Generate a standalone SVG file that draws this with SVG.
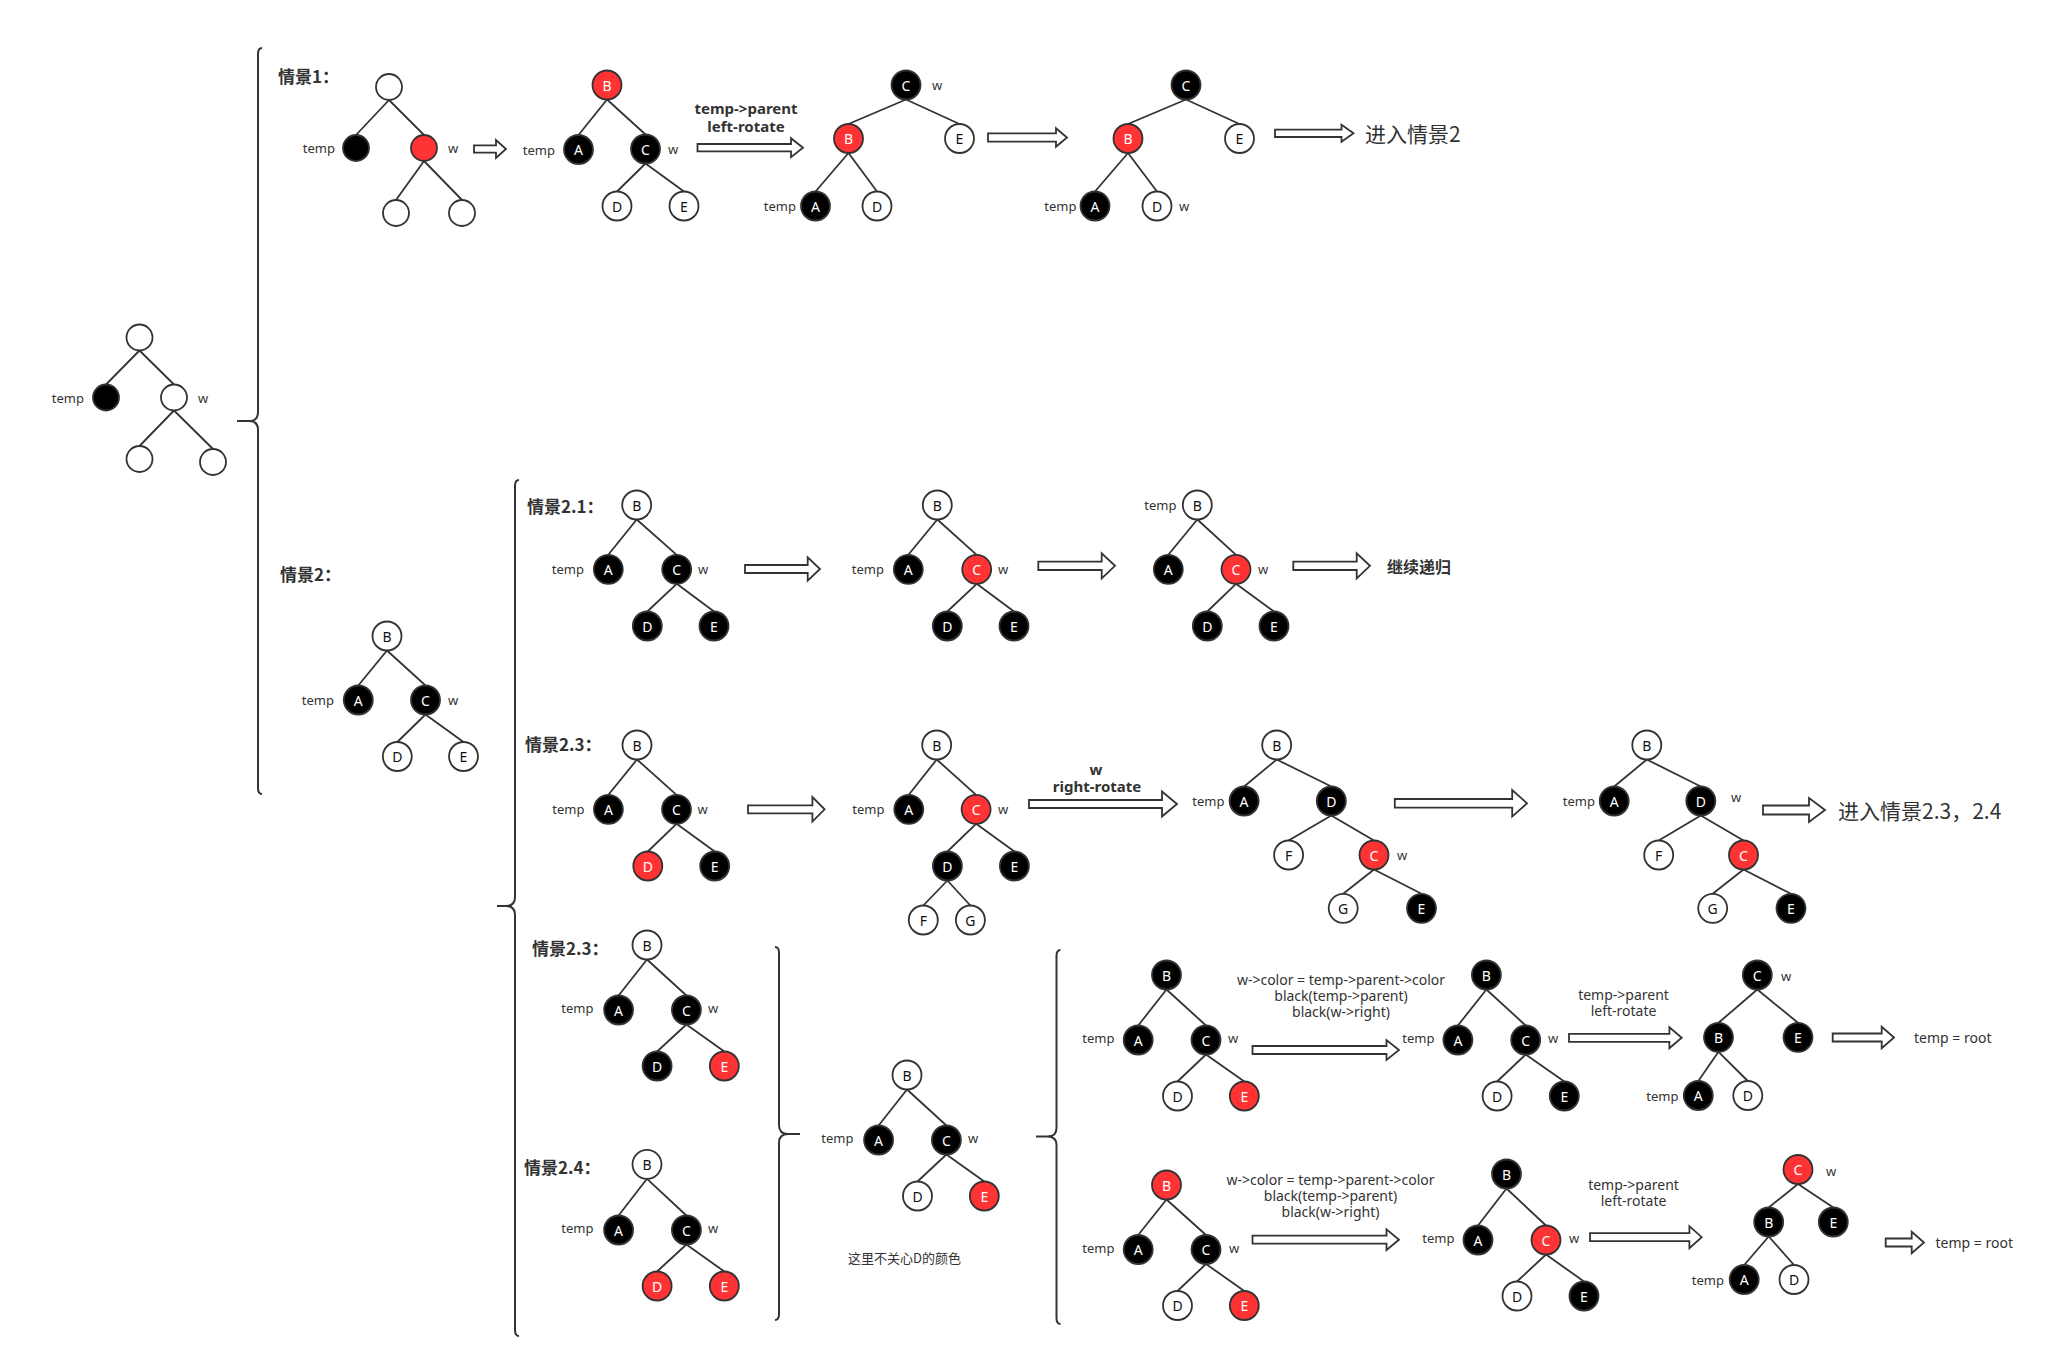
<svg xmlns="http://www.w3.org/2000/svg" width="2050" height="1368" viewBox="0 0 2050 1368">
<style>
.w{fill:#fff;stroke:#333;stroke-width:1.8}
.k{fill:#000;stroke:#333;stroke-width:1.8}
.r{fill:#ff3333;stroke:#333;stroke-width:1.8}
.e line{stroke:#333;stroke-width:1.8}
.lt{font-family:"Noto Sans","DejaVu Sans",sans-serif;font-size:14px;text-anchor:middle;dominant-baseline:central}
.lw{fill:#fff}
.ld{fill:#111}
.lbl{font-family:"Noto Sans","DejaVu Sans",sans-serif;font-size:13px;fill:#333;dominant-baseline:central}
.end{text-anchor:end}
.h{font-family:"Noto Sans CJK SC","Noto Sans",sans-serif;font-size:17px;font-weight:bold;fill:#333;dominant-baseline:central}
.big{font-family:"Noto Sans CJK SC","Noto Sans",sans-serif;font-size:21px;fill:#333;dominant-baseline:central}
.bl{font-family:"Noto Sans","DejaVu Sans",sans-serif;font-size:15px;font-weight:bold;fill:#333;text-anchor:middle;dominant-baseline:central}
.nl{font-family:"Noto Sans","DejaVu Sans",sans-serif;font-size:14px;fill:#333;dominant-baseline:central}
.mid{text-anchor:middle}
.ar{fill:#fff;stroke:#333;stroke-width:1.8;stroke-linejoin:miter}
.br{fill:none;stroke:#333;stroke-width:2}
</style>

<!-- braces -->
<g id="braces">
<path class="br" d="M262,48 Q258,48 258,54 L258,412 Q258,421 249,421 L237,421 L249,421 Q258,421 258,430 L258,788 Q258,794 262,794"/>
<path class="br" d="M519,480 Q515,480 515,486 L515,897 Q515,906 506,906 L497,906 L506,906 Q515,906 515,915 L515,1330 Q515,1336 519,1336"/>
<path class="br" d="M775,947 Q779,947 779,953 L779,1125 Q779,1134 788,1134 L800,1134 L788,1134 Q779,1134 779,1143 L779,1314 Q779,1320 775,1320"/>
<path class="br" d="M1060.5,950 Q1056.5,950 1056.5,956 L1056.5,1128 Q1056.5,1136.5 1047.5,1136.5 L1036,1136.5 L1047.5,1136.5 Q1056.5,1136.5 1056.5,1145 L1056.5,1318 Q1056.5,1324 1060.5,1324"/>
</g>

<!-- connectors: tree edges -->
<g id="connectors" class="e">
<line x1="139.5" y1="350.5" x2="106" y2="384.5"/><line x1="139.5" y1="350.5" x2="174" y2="384.5"/>
<line x1="174" y1="410.5" x2="139.5" y2="446"/><line x1="174" y1="410.5" x2="213" y2="449"/>
<line x1="389" y1="100" x2="356" y2="135"/><line x1="389" y1="100" x2="424" y2="135"/>
<line x1="424" y1="161" x2="396" y2="200"/><line x1="424" y1="161" x2="462" y2="200"/>
<line x1="607" y1="99.5" x2="578.5" y2="135"/><line x1="607" y1="99.5" x2="645.5" y2="134.5"/>
<line x1="645.5" y1="163.5" x2="617" y2="191.5"/><line x1="645.5" y1="163.5" x2="684" y2="191.5"/>
<line x1="906" y1="99.5" x2="848.5" y2="124"/><line x1="906" y1="99.5" x2="959.5" y2="124"/>
<line x1="848.5" y1="153" x2="815.5" y2="191.5"/><line x1="848.5" y1="153" x2="877" y2="191.5"/>
<line x1="1186" y1="99.5" x2="1128" y2="124"/><line x1="1186" y1="99.5" x2="1239.5" y2="124"/>
<line x1="1128" y1="153" x2="1095" y2="191.5"/><line x1="1128" y1="153" x2="1157" y2="191.5"/>
<line x1="387" y1="650.5" x2="358.3" y2="685.5"/><line x1="387" y1="650.5" x2="425.5" y2="685.5"/>
<line x1="425.5" y1="714.5" x2="397.3" y2="742"/><line x1="425.5" y1="714.5" x2="463.5" y2="742"/>
<line x1="636.7" y1="519.5" x2="608.3" y2="554.8"/><line x1="636.7" y1="519.5" x2="676.7" y2="554.8"/>
<line x1="676.7" y1="583.8" x2="647.3" y2="611.5"/><line x1="676.7" y1="583.8" x2="714" y2="611.5"/>
<line x1="937.3" y1="519.5" x2="908.3" y2="554.8"/><line x1="937.3" y1="519.5" x2="976.7" y2="554.8"/>
<line x1="976.7" y1="583.8" x2="947.3" y2="611.5"/><line x1="976.7" y1="583.8" x2="1014" y2="611.5"/>
<line x1="1197.3" y1="519.5" x2="1168.3" y2="554.8"/><line x1="1197.3" y1="519.5" x2="1236" y2="554.8"/>
<line x1="1236" y1="583.8" x2="1207.3" y2="611.5"/><line x1="1236" y1="583.8" x2="1274" y2="611.5"/>
<line x1="637" y1="759.5" x2="608.4" y2="794.8"/><line x1="637" y1="759.5" x2="676.5" y2="794.8"/>
<line x1="676.5" y1="823.8" x2="647.8" y2="851.5"/><line x1="676.5" y1="823.8" x2="714.7" y2="851.5"/>
<line x1="936.7" y1="759.5" x2="908.8" y2="794.8"/><line x1="936.7" y1="759.5" x2="976.1" y2="794.8"/>
<line x1="976.1" y1="823.8" x2="947.4" y2="851.5"/><line x1="976.1" y1="823.8" x2="1014.4" y2="851.5"/>
<line x1="947.4" y1="880.5" x2="923.3" y2="905.5"/><line x1="947.4" y1="880.5" x2="970.4" y2="905.5"/>
<line x1="1276.7" y1="759.5" x2="1244.1" y2="786.5"/><line x1="1276.7" y1="759.5" x2="1331.3" y2="786.5"/>
<line x1="1331.3" y1="815.5" x2="1288.6" y2="840.5"/><line x1="1331.3" y1="815.5" x2="1374" y2="840.5"/>
<line x1="1374" y1="869.5" x2="1343.2" y2="893.8"/><line x1="1374" y1="869.5" x2="1421.5" y2="893.8"/>
<line x1="1646.8" y1="759.5" x2="1614.2" y2="786.5"/><line x1="1646.8" y1="759.5" x2="1700.8" y2="786.5"/>
<line x1="1700.8" y1="815.5" x2="1658.7" y2="840.5"/><line x1="1700.8" y1="815.5" x2="1743.5" y2="840.5"/>
<line x1="1743.5" y1="869.5" x2="1712.7" y2="893.8"/><line x1="1743.5" y1="869.5" x2="1791" y2="893.8"/>
<line x1="647" y1="959.5" x2="618.6" y2="995.5"/><line x1="647" y1="959.5" x2="686.4" y2="995.5"/>
<line x1="686.4" y1="1024.5" x2="657.1" y2="1051.5"/><line x1="686.4" y1="1024.5" x2="724.3" y2="1051.5"/>
<line x1="647" y1="1178.8" x2="618.6" y2="1215.5"/><line x1="647" y1="1178.8" x2="686.4" y2="1215.5"/>
<line x1="686.4" y1="1244.5" x2="657.1" y2="1271.5"/><line x1="686.4" y1="1244.5" x2="724.3" y2="1271.5"/>
<line x1="907" y1="1089.5" x2="878.6" y2="1125.5"/><line x1="907" y1="1089.5" x2="946.4" y2="1125.5"/>
<line x1="946.4" y1="1154.5" x2="917.5" y2="1181.5"/><line x1="946.4" y1="1154.5" x2="984.3" y2="1181.5"/>
<line x1="1166.5" y1="989.5" x2="1138.2" y2="1025.5"/><line x1="1166.5" y1="989.5" x2="1206" y2="1025.5"/>
<line x1="1206" y1="1054.5" x2="1177.5" y2="1081.5"/><line x1="1206" y1="1054.5" x2="1244.3" y2="1081.5"/>
<line x1="1486.4" y1="989.5" x2="1457.9" y2="1025.5"/><line x1="1486.4" y1="989.5" x2="1525.7" y2="1025.5"/>
<line x1="1525.7" y1="1054.5" x2="1497.1" y2="1081.5"/><line x1="1525.7" y1="1054.5" x2="1564.3" y2="1081.5"/>
<line x1="1757.3" y1="989.5" x2="1718.5" y2="1022.8"/><line x1="1757.3" y1="989.5" x2="1798" y2="1022.8"/>
<line x1="1718.5" y1="1051.8" x2="1698.3" y2="1081"/><line x1="1718.5" y1="1051.8" x2="1747.8" y2="1081"/>
<line x1="1166.5" y1="1199.5" x2="1138.2" y2="1235"/><line x1="1166.5" y1="1199.5" x2="1206" y2="1235"/>
<line x1="1206" y1="1264" x2="1177.5" y2="1291"/><line x1="1206" y1="1264" x2="1244.3" y2="1291"/>
<line x1="1506.5" y1="1188.5" x2="1478" y2="1225.5"/><line x1="1506.5" y1="1188.5" x2="1546" y2="1225.5"/>
<line x1="1546" y1="1254.5" x2="1517" y2="1281.5"/><line x1="1546" y1="1254.5" x2="1584" y2="1281.5"/>
<line x1="1798" y1="1184" x2="1768.7" y2="1207.5"/><line x1="1798" y1="1184" x2="1833.3" y2="1207.5"/>
<line x1="1768.7" y1="1236.5" x2="1744.2" y2="1265"/><line x1="1768.7" y1="1236.5" x2="1794" y2="1265"/>
</g>

<!-- block arrows -->
<g id="arrows">
<path class="ar" d="M474,145.3 L496,145.3 L496,140 L506,149 L496,158 L496,152.7 L474,152.7 Z"/>
<path class="ar" d="M697.5,144 L791,144 L791,138.2 L803,147.7 L791,157.2 L791,151.4 L697.5,151.4 Z"/>
<path class="ar" d="M988,133.3 L1056,133.3 L1056,128.2 L1067,137.5 L1056,146.8 L1056,141.7 L988,141.7 Z"/>
<path class="ar" d="M1275,129.6 L1341.5,129.6 L1341.5,124.8 L1353.5,133.3 L1341.5,141.8 L1341.5,137 L1275,137 Z"/>
<path class="ar" d="M745,565 L807.7,565 L807.7,557.3 L820,569 L807.7,580.7 L807.7,573 L745,573 Z"/>
<path class="ar" d="M1038.3,561.6 L1101.7,561.6 L1101.7,553.3 L1115,565.8 L1101.7,578.3 L1101.7,570 L1038.3,570 Z"/>
<path class="ar" d="M1293.3,561.6 L1356.7,561.6 L1356.7,553.3 L1370,565.8 L1356.7,578.3 L1356.7,570 L1293.3,570 Z"/>
<path class="ar" d="M748,805.3 L812.4,805.3 L812.4,797 L824.6,809.3 L812.4,821.6 L812.4,813.3 L748,813.3 Z"/>
<path class="ar" d="M1029,800 L1162,800 L1162,791.5 L1177,804 L1162,816.5 L1162,808 L1029,808 Z"/>
<path class="ar" d="M1394.8,799 L1512.2,799 L1512.2,790 L1527,803.3 L1512.2,816.6 L1512.2,807.6 L1394.8,807.6 Z"/>
<path class="ar" d="M1763,805.5 L1809,805.5 L1809,798 L1825,810 L1809,822 L1809,814.5 L1763,814.5 Z"/>
<path class="ar" d="M1252.5,1046 L1386.5,1046 L1386.5,1040 L1399,1050 L1386.5,1060 L1386.5,1054 L1252.5,1054 Z"/>
<path class="ar" d="M1569,1033.8 L1669.4,1033.8 L1669.4,1027.3 L1681.7,1037.8 L1669.4,1048.3 L1669.4,1041.8 L1569,1041.8 Z"/>
<path class="ar" d="M1832.7,1033.5 L1881.7,1033.5 L1881.7,1026.7 L1894,1037.5 L1881.7,1048.3 L1881.7,1041.5 L1832.7,1041.5 Z"/>
<path class="ar" d="M1252.5,1235.7 L1386.5,1235.7 L1386.5,1229.4 L1399,1239.7 L1386.5,1250 L1386.5,1243.7 L1252.5,1243.7 Z"/>
<path class="ar" d="M1590,1233.2 L1689.4,1233.2 L1689.4,1226.2 L1701.7,1237.2 L1689.4,1248.2 L1689.4,1241.2 L1590,1241.2 Z"/>
<path class="ar" d="M1885.7,1238.5 L1911.7,1238.5 L1911.7,1231.7 L1924,1242.5 L1911.7,1253.3 L1911.7,1246.5 L1885.7,1246.5 Z"/>
</g>

<!-- headings and texts -->
<g id="texts">
<text class="h" x="278" y="75">情景1：</text>
<text class="h" x="280" y="573">情景2：</text>
<text class="h" x="527" y="505">情景2.1：</text>
<text class="h" x="525" y="743">情景2.3：</text>
<text class="h" x="532" y="947">情景2.3：</text>
<text class="h" x="524" y="1166">情景2.4：</text>
<text class="big" x="1365" y="133">进入情景2</text>
<text class="big" x="1838" y="810">进入情景2.3，2.4</text>
<text class="h" x="1387" y="566" style="font-size:16px">继续递归</text>
<text class="bl" x="746" y="108">temp-&gt;parent</text>
<text class="bl" x="746" y="126">left-rotate</text>
<text class="bl" x="1096" y="769">w</text>
<text class="bl" x="1097" y="786">right-rotate</text>
<text class="nl mid" x="1341" y="979.5">w-&gt;color = temp-&gt;parent-&gt;color</text>
<text class="nl mid" x="1341" y="995.5">black(temp-&gt;parent)</text>
<text class="nl mid" x="1341" y="1011.5">black(w-&gt;right)</text>
<text class="nl mid" x="1330.5" y="1179.5">w-&gt;color = temp-&gt;parent-&gt;color</text>
<text class="nl mid" x="1330.5" y="1195.5">black(temp-&gt;parent)</text>
<text class="nl mid" x="1330.5" y="1211.5">black(w-&gt;right)</text>
<text class="nl mid" x="1623.5" y="994.5">temp-&gt;parent</text>
<text class="nl mid" x="1623.5" y="1010.5">left-rotate</text>
<text class="nl mid" x="1633.5" y="1184.5">temp-&gt;parent</text>
<text class="nl mid" x="1633.5" y="1200.5">left-rotate</text>
<text class="nl" x="1914" y="1037.5">temp = root</text>
<text class="nl" x="1935.5" y="1242.5">temp = root</text>
<text class="lbl" x="848" y="1257" style="font-family:'Noto Sans CJK SC',sans-serif">这里不关心D的颜色</text>
</g>

<!-- pointer labels -->
<g id="pointer-labels">
<text class="lbl end" x="84" y="397.5">temp</text><text class="lbl" x="198" y="397.5">w</text>
<text class="lbl end" x="335" y="148">temp</text><text class="lbl" x="448" y="148">w</text>
<text class="lbl end" x="555" y="149.5">temp</text><text class="lbl" x="668" y="149">w</text>
<text class="lbl" x="932" y="85">w</text><text class="lbl end" x="796" y="206">temp</text>
<text class="lbl end" x="1076.5" y="206">temp</text><text class="lbl" x="1179" y="206">w</text>
<text class="lbl end" x="334" y="700">temp</text><text class="lbl" x="448" y="700">w</text>
<text class="lbl end" x="584" y="569">temp</text><text class="lbl" x="698" y="569">w</text>
<text class="lbl end" x="884" y="569">temp</text><text class="lbl" x="998" y="569">w</text>
<text class="lbl end" x="1176.5" y="505">temp</text><text class="lbl" x="1258" y="569">w</text>
<text class="lbl end" x="584.5" y="809">temp</text><text class="lbl" x="697.5" y="809">w</text>
<text class="lbl end" x="884.5" y="809">temp</text><text class="lbl" x="998" y="809">w</text>
<text class="lbl end" x="1224.5" y="801">temp</text><text class="lbl" x="1397" y="855">w</text>
<text class="lbl end" x="1595" y="801">temp</text><text class="lbl" x="1731" y="797">w</text>
<text class="lbl end" x="593.5" y="1008">temp</text><text class="lbl" x="708" y="1008">w</text>
<text class="lbl end" x="593.5" y="1228">temp</text><text class="lbl" x="708" y="1228">w</text>
<text class="lbl end" x="853.5" y="1138">temp</text><text class="lbl" x="968" y="1138">w</text>
<text class="lbl end" x="1114.5" y="1038">temp</text><text class="lbl" x="1228" y="1038">w</text>
<text class="lbl end" x="1434.5" y="1038">temp</text><text class="lbl" x="1548" y="1038">w</text>
<text class="lbl" x="1781" y="976">w</text><text class="lbl end" x="1678.5" y="1096">temp</text>
<text class="lbl end" x="1114.5" y="1247.5">temp</text><text class="lbl" x="1229" y="1247.5">w</text>
<text class="lbl end" x="1454.5" y="1237.5">temp</text><text class="lbl" x="1569" y="1237.5">w</text>
<text class="lbl" x="1826" y="1170.5">w</text><text class="lbl end" x="1724" y="1280">temp</text>
</g>

<!-- nodes -->
<g id="left-root"><circle class="w" cx="139.5" cy="337.5" r="13"/></g>
<g id="left-temp"><circle class="k" cx="106" cy="397.5" r="13"/></g>
<g id="left-w"><circle class="w" cx="174" cy="397.5" r="13"/></g>
<g id="left-wl"><circle class="w" cx="139.5" cy="459" r="13"/></g>
<g id="left-wr"><circle class="w" cx="213" cy="462" r="13"/></g>

<g id="t1a-root"><circle class="w" cx="389" cy="87" r="13"/></g>
<g id="t1a-temp"><circle class="k" cx="356" cy="148" r="13"/></g>
<g id="t1a-w"><circle class="r" cx="424" cy="148" r="13"/></g>
<g id="t1a-wl"><circle class="w" cx="396" cy="213" r="13"/></g>
<g id="t1a-wr"><circle class="w" cx="462" cy="213" r="13"/></g>

<g id="t1b-B"><circle class="r" cx="607" cy="85" r="14.5"/><text class="lt lw" x="607" y="85">B</text></g>
<g id="t1b-A"><circle class="k" cx="578.5" cy="149.5" r="14.5"/><text class="lt lw" x="578.5" y="149.5">A</text></g>
<g id="t1b-C"><circle class="k" cx="645.5" cy="149" r="14.5"/><text class="lt lw" x="645.5" y="149">C</text></g>
<g id="t1b-D"><circle class="w" cx="617" cy="206" r="14.5"/><text class="lt ld" x="617" y="206">D</text></g>
<g id="t1b-E"><circle class="w" cx="684" cy="206" r="14.5"/><text class="lt ld" x="684" y="206">E</text></g>

<g id="t1c-C"><circle class="k" cx="906" cy="85" r="14.5"/><text class="lt lw" x="906" y="85">C</text></g>
<g id="t1c-B"><circle class="r" cx="848.5" cy="138.5" r="14.5"/><text class="lt lw" x="848.5" y="138.5">B</text></g>
<g id="t1c-E"><circle class="w" cx="959.5" cy="138.5" r="14.5"/><text class="lt ld" x="959.5" y="138.5">E</text></g>
<g id="t1c-A"><circle class="k" cx="815.5" cy="206" r="14.5"/><text class="lt lw" x="815.5" y="206">A</text></g>
<g id="t1c-D"><circle class="w" cx="877" cy="206" r="14.5"/><text class="lt ld" x="877" y="206">D</text></g>

<g id="t1d-C"><circle class="k" cx="1186" cy="85" r="14.5"/><text class="lt lw" x="1186" y="85">C</text></g>
<g id="t1d-B"><circle class="r" cx="1128" cy="138.5" r="14.5"/><text class="lt lw" x="1128" y="138.5">B</text></g>
<g id="t1d-E"><circle class="w" cx="1239.5" cy="138.5" r="14.5"/><text class="lt ld" x="1239.5" y="138.5">E</text></g>
<g id="t1d-A"><circle class="k" cx="1095" cy="206" r="14.5"/><text class="lt lw" x="1095" y="206">A</text></g>
<g id="t1d-D"><circle class="w" cx="1157" cy="206" r="14.5"/><text class="lt ld" x="1157" y="206">D</text></g>

<g id="t2-B"><circle class="w" cx="387" cy="636" r="14.5"/><text class="lt ld" x="387" y="636">B</text></g>
<g id="t2-A"><circle class="k" cx="358.3" cy="700" r="14.5"/><text class="lt lw" x="358.3" y="700">A</text></g>
<g id="t2-C"><circle class="k" cx="425.5" cy="700" r="14.5"/><text class="lt lw" x="425.5" y="700">C</text></g>
<g id="t2-D"><circle class="w" cx="397.3" cy="756.5" r="14.5"/><text class="lt ld" x="397.3" y="756.5">D</text></g>
<g id="t2-E"><circle class="w" cx="463.5" cy="756.5" r="14.5"/><text class="lt ld" x="463.5" y="756.5">E</text></g>

<g id="t21a-B"><circle class="w" cx="636.7" cy="505" r="14.5"/><text class="lt ld" x="636.7" y="505">B</text></g>
<g id="t21a-A"><circle class="k" cx="608.3" cy="569.3" r="14.5"/><text class="lt lw" x="608.3" y="569.3">A</text></g>
<g id="t21a-C"><circle class="k" cx="676.7" cy="569.3" r="14.5"/><text class="lt lw" x="676.7" y="569.3">C</text></g>
<g id="t21a-D"><circle class="k" cx="647.3" cy="626" r="14.5"/><text class="lt lw" x="647.3" y="626">D</text></g>
<g id="t21a-E"><circle class="k" cx="714" cy="626" r="14.5"/><text class="lt lw" x="714" y="626">E</text></g>

<g id="t21b-B"><circle class="w" cx="937.3" cy="505" r="14.5"/><text class="lt ld" x="937.3" y="505">B</text></g>
<g id="t21b-A"><circle class="k" cx="908.3" cy="569.3" r="14.5"/><text class="lt lw" x="908.3" y="569.3">A</text></g>
<g id="t21b-C"><circle class="r" cx="976.7" cy="569.3" r="14.5"/><text class="lt lw" x="976.7" y="569.3">C</text></g>
<g id="t21b-D"><circle class="k" cx="947.3" cy="626" r="14.5"/><text class="lt lw" x="947.3" y="626">D</text></g>
<g id="t21b-E"><circle class="k" cx="1014" cy="626" r="14.5"/><text class="lt lw" x="1014" y="626">E</text></g>

<g id="t21c-B"><circle class="w" cx="1197.3" cy="505" r="14.5"/><text class="lt ld" x="1197.3" y="505">B</text></g>
<g id="t21c-A"><circle class="k" cx="1168.3" cy="569.3" r="14.5"/><text class="lt lw" x="1168.3" y="569.3">A</text></g>
<g id="t21c-C"><circle class="r" cx="1236" cy="569.3" r="14.5"/><text class="lt lw" x="1236" y="569.3">C</text></g>
<g id="t21c-D"><circle class="k" cx="1207.3" cy="626" r="14.5"/><text class="lt lw" x="1207.3" y="626">D</text></g>
<g id="t21c-E"><circle class="k" cx="1274" cy="626" r="14.5"/><text class="lt lw" x="1274" y="626">E</text></g>

<g id="t23a-B"><circle class="w" cx="637" cy="745" r="14.5"/><text class="lt ld" x="637" y="745">B</text></g>
<g id="t23a-A"><circle class="k" cx="608.4" cy="809.3" r="14.5"/><text class="lt lw" x="608.4" y="809.3">A</text></g>
<g id="t23a-C"><circle class="k" cx="676.5" cy="809.3" r="14.5"/><text class="lt lw" x="676.5" y="809.3">C</text></g>
<g id="t23a-D"><circle class="r" cx="647.8" cy="866" r="14.5"/><text class="lt lw" x="647.8" y="866">D</text></g>
<g id="t23a-E"><circle class="k" cx="714.7" cy="866" r="14.5"/><text class="lt lw" x="714.7" y="866">E</text></g>

<g id="t23b-B"><circle class="w" cx="936.7" cy="745" r="14.5"/><text class="lt ld" x="936.7" y="745">B</text></g>
<g id="t23b-A"><circle class="k" cx="908.8" cy="809.3" r="14.5"/><text class="lt lw" x="908.8" y="809.3">A</text></g>
<g id="t23b-C"><circle class="r" cx="976.1" cy="809.3" r="14.5"/><text class="lt lw" x="976.1" y="809.3">C</text></g>
<g id="t23b-D"><circle class="k" cx="947.4" cy="866" r="14.5"/><text class="lt lw" x="947.4" y="866">D</text></g>
<g id="t23b-E"><circle class="k" cx="1014.4" cy="866" r="14.5"/><text class="lt lw" x="1014.4" y="866">E</text></g>
<g id="t23b-F"><circle class="w" cx="923.3" cy="920" r="14.5"/><text class="lt ld" x="923.3" y="920">F</text></g>
<g id="t23b-G"><circle class="w" cx="970.4" cy="920" r="14.5"/><text class="lt ld" x="970.4" y="920">G</text></g>

<g id="t23c-B"><circle class="w" cx="1276.7" cy="745" r="14.5"/><text class="lt ld" x="1276.7" y="745">B</text></g>
<g id="t23c-A"><circle class="k" cx="1244.1" cy="801" r="14.5"/><text class="lt lw" x="1244.1" y="801">A</text></g>
<g id="t23c-D"><circle class="k" cx="1331.3" cy="801" r="14.5"/><text class="lt lw" x="1331.3" y="801">D</text></g>
<g id="t23c-F"><circle class="w" cx="1288.6" cy="855" r="14.5"/><text class="lt ld" x="1288.6" y="855">F</text></g>
<g id="t23c-C"><circle class="r" cx="1374" cy="855" r="14.5"/><text class="lt lw" x="1374" y="855">C</text></g>
<g id="t23c-G"><circle class="w" cx="1343.2" cy="908.3" r="14.5"/><text class="lt ld" x="1343.2" y="908.3">G</text></g>
<g id="t23c-E"><circle class="k" cx="1421.5" cy="908.3" r="14.5"/><text class="lt lw" x="1421.5" y="908.3">E</text></g>

<g id="t23d-B"><circle class="w" cx="1646.8" cy="745" r="14.5"/><text class="lt ld" x="1646.8" y="745">B</text></g>
<g id="t23d-A"><circle class="k" cx="1614.2" cy="801" r="14.5"/><text class="lt lw" x="1614.2" y="801">A</text></g>
<g id="t23d-D"><circle class="k" cx="1700.8" cy="801" r="14.5"/><text class="lt lw" x="1700.8" y="801">D</text></g>
<g id="t23d-F"><circle class="w" cx="1658.7" cy="855" r="14.5"/><text class="lt ld" x="1658.7" y="855">F</text></g>
<g id="t23d-C"><circle class="r" cx="1743.5" cy="855" r="14.5"/><text class="lt lw" x="1743.5" y="855">C</text></g>
<g id="t23d-G"><circle class="w" cx="1712.7" cy="908.3" r="14.5"/><text class="lt ld" x="1712.7" y="908.3">G</text></g>
<g id="t23d-E"><circle class="k" cx="1791" cy="908.3" r="14.5"/><text class="lt lw" x="1791" y="908.3">E</text></g>

<g id="t23e-B"><circle class="w" cx="647" cy="945" r="14.5"/><text class="lt ld" x="647" y="945">B</text></g>
<g id="t23e-A"><circle class="k" cx="618.6" cy="1010" r="14.5"/><text class="lt lw" x="618.6" y="1010">A</text></g>
<g id="t23e-C"><circle class="k" cx="686.4" cy="1010" r="14.5"/><text class="lt lw" x="686.4" y="1010">C</text></g>
<g id="t23e-D"><circle class="k" cx="657.1" cy="1066" r="14.5"/><text class="lt lw" x="657.1" y="1066">D</text></g>
<g id="t23e-E"><circle class="r" cx="724.3" cy="1066" r="14.5"/><text class="lt lw" x="724.3" y="1066">E</text></g>

<g id="t24-B"><circle class="w" cx="647" cy="1164.3" r="14.5"/><text class="lt ld" x="647" y="1164.3">B</text></g>
<g id="t24-A"><circle class="k" cx="618.6" cy="1230" r="14.5"/><text class="lt lw" x="618.6" y="1230">A</text></g>
<g id="t24-C"><circle class="k" cx="686.4" cy="1230" r="14.5"/><text class="lt lw" x="686.4" y="1230">C</text></g>
<g id="t24-D"><circle class="r" cx="657.1" cy="1286" r="14.5"/><text class="lt lw" x="657.1" y="1286">D</text></g>
<g id="t24-E"><circle class="r" cx="724.3" cy="1286" r="14.5"/><text class="lt lw" x="724.3" y="1286">E</text></g>

<g id="tm-B"><circle class="w" cx="907" cy="1075" r="14.5"/><text class="lt ld" x="907" y="1075">B</text></g>
<g id="tm-A"><circle class="k" cx="878.6" cy="1140" r="14.5"/><text class="lt lw" x="878.6" y="1140">A</text></g>
<g id="tm-C"><circle class="k" cx="946.4" cy="1140" r="14.5"/><text class="lt lw" x="946.4" y="1140">C</text></g>
<g id="tm-D"><circle class="w" cx="917.5" cy="1196" r="14.5"/><text class="lt ld" x="917.5" y="1196">D</text></g>
<g id="tm-E"><circle class="r" cx="984.3" cy="1196" r="14.5"/><text class="lt lw" x="984.3" y="1196">E</text></g>

<g id="tr1a-B"><circle class="k" cx="1166.5" cy="975" r="14.5"/><text class="lt lw" x="1166.5" y="975">B</text></g>
<g id="tr1a-A"><circle class="k" cx="1138.2" cy="1040" r="14.5"/><text class="lt lw" x="1138.2" y="1040">A</text></g>
<g id="tr1a-C"><circle class="k" cx="1206" cy="1040" r="14.5"/><text class="lt lw" x="1206" y="1040">C</text></g>
<g id="tr1a-D"><circle class="w" cx="1177.5" cy="1096" r="14.5"/><text class="lt ld" x="1177.5" y="1096">D</text></g>
<g id="tr1a-E"><circle class="r" cx="1244.3" cy="1096" r="14.5"/><text class="lt lw" x="1244.3" y="1096">E</text></g>

<g id="tr1b-B"><circle class="k" cx="1486.4" cy="975" r="14.5"/><text class="lt lw" x="1486.4" y="975">B</text></g>
<g id="tr1b-A"><circle class="k" cx="1457.9" cy="1040" r="14.5"/><text class="lt lw" x="1457.9" y="1040">A</text></g>
<g id="tr1b-C"><circle class="k" cx="1525.7" cy="1040" r="14.5"/><text class="lt lw" x="1525.7" y="1040">C</text></g>
<g id="tr1b-D"><circle class="w" cx="1497.1" cy="1096" r="14.5"/><text class="lt ld" x="1497.1" y="1096">D</text></g>
<g id="tr1b-E"><circle class="k" cx="1564.3" cy="1096" r="14.5"/><text class="lt lw" x="1564.3" y="1096">E</text></g>

<g id="tr1c-C"><circle class="k" cx="1757.3" cy="975" r="14.5"/><text class="lt lw" x="1757.3" y="975">C</text></g>
<g id="tr1c-B"><circle class="k" cx="1718.5" cy="1037.3" r="14.5"/><text class="lt lw" x="1718.5" y="1037.3">B</text></g>
<g id="tr1c-E"><circle class="k" cx="1798" cy="1037.3" r="14.5"/><text class="lt lw" x="1798" y="1037.3">E</text></g>
<g id="tr1c-A"><circle class="k" cx="1698.3" cy="1095.5" r="14.5"/><text class="lt lw" x="1698.3" y="1095.5">A</text></g>
<g id="tr1c-D"><circle class="w" cx="1747.8" cy="1095.5" r="14.5"/><text class="lt ld" x="1747.8" y="1095.5">D</text></g>

<g id="tr2a-B"><circle class="r" cx="1166.5" cy="1185" r="14.5"/><text class="lt lw" x="1166.5" y="1185">B</text></g>
<g id="tr2a-A"><circle class="k" cx="1138.2" cy="1249.5" r="14.5"/><text class="lt lw" x="1138.2" y="1249.5">A</text></g>
<g id="tr2a-C"><circle class="k" cx="1206" cy="1249.5" r="14.5"/><text class="lt lw" x="1206" y="1249.5">C</text></g>
<g id="tr2a-D"><circle class="w" cx="1177.5" cy="1305.5" r="14.5"/><text class="lt ld" x="1177.5" y="1305.5">D</text></g>
<g id="tr2a-E"><circle class="r" cx="1244.3" cy="1305.5" r="14.5"/><text class="lt lw" x="1244.3" y="1305.5">E</text></g>

<g id="tr2b-B"><circle class="k" cx="1506.5" cy="1174" r="14.5"/><text class="lt lw" x="1506.5" y="1174">B</text></g>
<g id="tr2b-A"><circle class="k" cx="1478" cy="1240" r="14.5"/><text class="lt lw" x="1478" y="1240">A</text></g>
<g id="tr2b-C"><circle class="r" cx="1546" cy="1240" r="14.5"/><text class="lt lw" x="1546" y="1240">C</text></g>
<g id="tr2b-D"><circle class="w" cx="1517" cy="1296" r="14.5"/><text class="lt ld" x="1517" y="1296">D</text></g>
<g id="tr2b-E"><circle class="k" cx="1584" cy="1296" r="14.5"/><text class="lt lw" x="1584" y="1296">E</text></g>

<g id="tr2c-C"><circle class="r" cx="1798" cy="1169.5" r="14.5"/><text class="lt lw" x="1798" y="1169.5">C</text></g>
<g id="tr2c-B"><circle class="k" cx="1768.7" cy="1222" r="14.5"/><text class="lt lw" x="1768.7" y="1222">B</text></g>
<g id="tr2c-E"><circle class="k" cx="1833.3" cy="1222" r="14.5"/><text class="lt lw" x="1833.3" y="1222">E</text></g>
<g id="tr2c-A"><circle class="k" cx="1744.2" cy="1279.5" r="14.5"/><text class="lt lw" x="1744.2" y="1279.5">A</text></g>
<g id="tr2c-D"><circle class="w" cx="1794" cy="1279.5" r="14.5"/><text class="lt ld" x="1794" y="1279.5">D</text></g>
</svg>
